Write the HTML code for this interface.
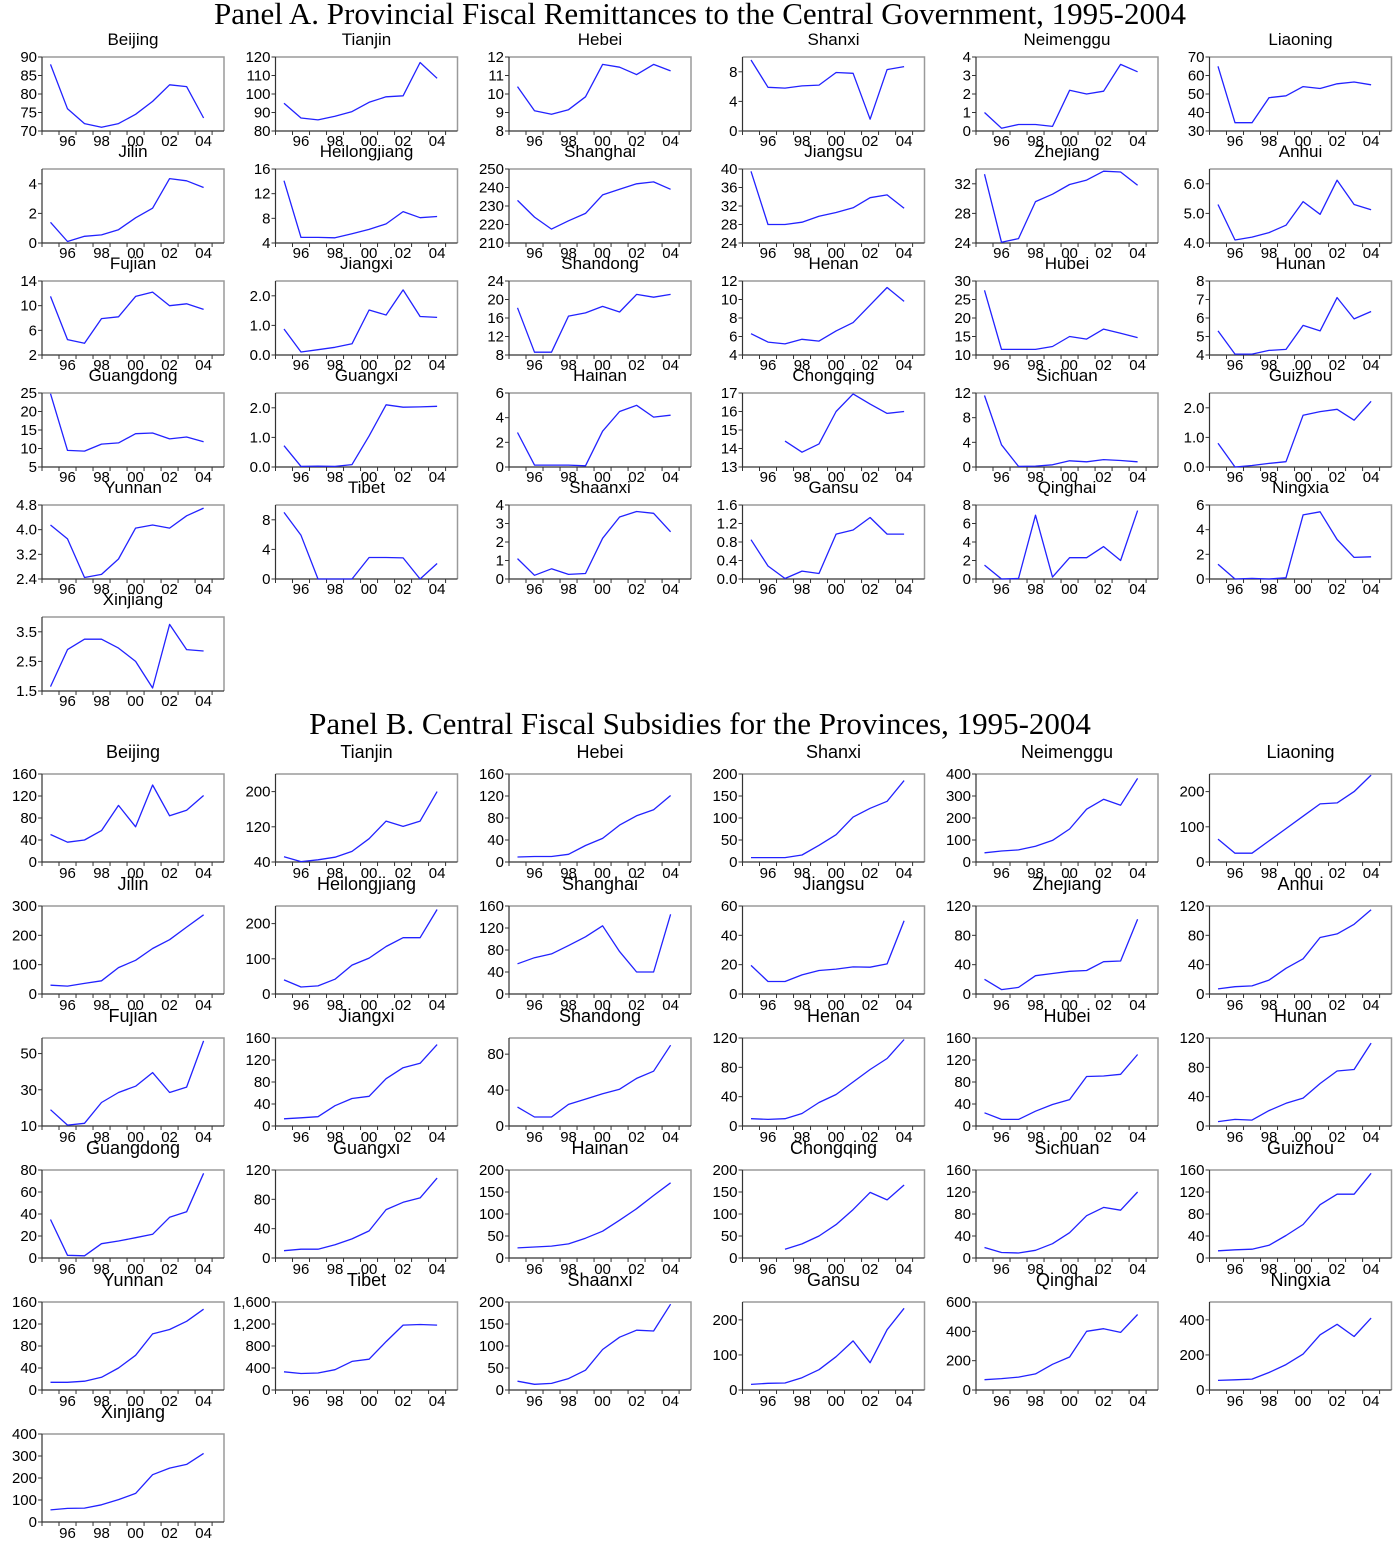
<!DOCTYPE html>
<html><head><meta charset="utf-8">
<style>
html,body{margin:0;padding:0;background:#fff;}
svg{display:block;font-family:"Liberation Sans",Arial,sans-serif;}
.mt{font-family:"Liberation Serif","Times New Roman",serif;font-size:31px;fill:#000;}
</style></head>
<body>
<svg id="fig" width="1400" height="1542" viewBox="0 0 1400 1542" xmlns="http://www.w3.org/2000/svg">
<text class="mt" x="700" y="24" text-anchor="middle">Panel A. Provincial Fiscal Remittances to the Central Government, 1995-2004</text>
<text class="mt" x="700" y="734" text-anchor="middle">Panel B. Central Fiscal Subsidies for the Provinces, 1995-2004</text>
</svg>
<script>
const provinces = ["Beijing","Tianjin","Hebei","Shanxi","Neimenggu","Liaoning","Jilin","Heilongjiang","Shanghai","Jiangsu","Zhejiang","Anhui","Fujian","Jiangxi","Shandong","Henan","Hubei","Hunan","Guangdong","Guangxi","Hainan","Chongqing","Sichuan","Guizhou","Yunnan","Tibet","Shaanxi","Gansu","Qinghai","Ningxia","Xinjiang"];
const years = [1995,1996,1997,1998,1999,2000,2001,2002,2003,2004];
const xTickYears = [1996,1998,2000,2002,2004];
const xTickLabels = ["96","98","00","02","04"];

const remittances = [
[88,76,72,71,72,74.5,78,82.5,82,73.5],
[95,87,86,88,90.5,95.5,98.5,99,117,108.5],
[10.4,9.1,8.9,9.15,9.85,11.6,11.45,11.05,11.6,11.25],
[9.6,5.9,5.8,6.1,6.2,7.9,7.8,1.6,8.3,8.7],
[1.0,0.15,0.35,0.35,0.25,2.2,2.0,2.15,3.6,3.2],
[65,34.5,34.5,48,49,54,53,55.5,56.5,55],
[1.4,0.1,0.45,0.55,0.9,1.7,2.35,4.35,4.2,3.75],
[14.1,4.9,4.9,4.85,5.5,6.2,7.1,9.1,8.1,8.3],
[233,224,217.5,222,226,236,239,242,243,239],
[39.5,28,28,28.5,29.8,30.6,31.6,33.8,34.4,31.5],
[33.3,24.1,24.6,29.6,30.6,31.9,32.5,33.7,33.6,31.8],
[5.3,4.1,4.2,4.35,4.6,5.4,4.97,6.12,5.3,5.12],
[11.5,4.5,3.9,7.9,8.2,11.5,12.2,10,10.3,9.4],
[0.88,0.1,0.18,0.26,0.38,1.52,1.35,2.2,1.3,1.27],
[18.2,8.6,8.6,16.4,17.1,18.5,17.3,21.1,20.5,21.1],
[6.3,5.4,5.2,5.7,5.5,6.6,7.5,9.4,11.3,9.8],
[27.5,11.5,11.5,11.5,12.3,15,14.3,17,15.9,14.7],
[5.3,4.05,4.05,4.25,4.3,5.6,5.3,7.1,5.95,6.35],
[24.8,9.5,9.3,11.2,11.5,14,14.2,12.6,13.1,11.8],
[0.72,0.02,0.03,0.02,0.08,1.05,2.1,2.02,2.03,2.05],
[2.8,0.15,0.15,0.15,0.1,2.9,4.5,5.0,4.05,4.2],
[null,null,14.4,13.8,14.25,16,16.95,16.4,15.9,16.0],
[11.6,3.6,0.1,0.15,0.35,1.0,0.85,1.2,1.05,0.85],
[0.8,0,0.05,0.12,0.18,1.75,1.87,1.95,1.58,2.22],
[4.15,3.7,2.45,2.55,3.05,4.05,4.15,4.05,4.45,4.7],
[9,5.9,0,0,0,2.9,2.9,2.85,0,2.1],
[1.1,0.2,0.55,0.25,0.3,2.2,3.35,3.65,3.55,2.55],
[0.85,0.28,0.01,0.17,0.12,0.97,1.06,1.33,0.97,0.97],
[1.5,0,0.05,6.9,0.2,2.3,2.3,3.5,2.0,7.4],
[1.2,0,0.05,0,0.1,5.2,5.45,3.2,1.75,1.8],
[1.65,2.9,3.25,3.25,2.95,2.5,1.6,3.75,2.9,2.85]
];
const remitRanges = [[70,90],[80,120],[8,12],[0,10],[0,4],[30,70],[0,5],[4,16],[210,250],[24,40],[24,34],[4,6.5],[2,14],[0,2.5],[8,24],[4,12],[10,30],[4,8],[5,25],[0,2.5],[0,6],[13,17],[0,12],[0,2.5],[2.4,4.8],[0,10],[0,4],[0,1.6],[0,8],[0,6],[1.5,4]];
const remitTicks = [[70,75,80,85,90],[80,90,100,110,120],[8,9,10,11,12],[0,4,8],[0,1,2,3,4],[30,40,50,60,70],[0,2,4],[4,8,12,16],[210,220,230,240,250],[24,28,32,36,40],[24,28,32],[4,5,6],[2,6,10,14],[0,1,2],[8,12,16,20,24],[4,6,8,10,12],[10,15,20,25,30],[4,5,6,7,8],[5,10,15,20,25],[0,1,2],[0,2,4,6],[13,14,15,16,17],[0,4,8,12],[0,1,2],[2.4,3.2,4.0,4.8],[0,4,8],[0,1,2,3,4],[0,0.4,0.8,1.2,1.6],[0,2,4,6,8],[0,2,4,6],[1.5,2.5,3.5]];
const remitTickDecimals = [0,0,0,0,0,0,0,0,0,0,0,1,0,1,0,0,0,0,0,1,0,0,0,1,1,0,0,1,0,0,1];

const subsidies = [
[50,36,40,57,103,64,140,84,94,121],
[52,41,45,51,64,93,133,121,133,200],
[9,10,10,14,30,43,67,84,95,121],
[10,10,10,16,38,62,102,122,138,185],
[42,50,55,72,98,150,240,285,258,380],
[65,25,25,60,95,130,165,168,200,247],
[30,27,36,45,90,115,155,185,228,270],
[40,20,23,42,82,102,135,160,160,240],
[55,66,73,88,104,124,77,40,40,145],
[19.5,8.5,8.5,13,16,17,18.5,18.3,20.5,50],
[20,6,9,25,28,31,32,44,45,102],
[7,10,11,19,35,48,77,82,95,115],
[19,10.5,11.5,23,28.5,32,39.5,28.5,31.5,57],
[13,15,17,37,50,54,86,106,114,148],
[21,10,10,24,30,36,41,53,61,90],
[10,9,10,17,32,43,60,77,92,118],
[24,12,12,27,39,48,90,91,94,130],
[6,9,8,21,31,38,58,75,77,113],
[35,2.5,2,13,15.5,18.5,21.5,37,42,77],
[10,12,12,18,26,37,66,76,82,109],
[23,25,27,32,45,61,86,112,142,171],
[null,null,20,32,50,76,110,149,132,166],
[19,10,9,14,26,46,77,92,87,120],
[13,15,16,23,41,61,97,116,116,154],
[14,14,16,23,40,63,102,110,125,147],
[330,300,310,370,520,560,880,1180,1190,1180],
[20,13,15,26,45,92,120,136,134,195],
[16,19,20,35,58,95,140,78,172,233],
[70,78,88,110,175,225,400,418,393,515],
[55,58,62,100,145,205,315,375,305,410],
[55,62,63,78,102,130,215,245,262,312]
];
const subRanges = [[0,160],[40,240],[0,160],[0,200],[0,400],[0,250],[0,300],[0,250],[0,160],[0,60],[0,120],[0,120],[10,58.6],[0,160],[0,98],[0,120],[0,160],[0,120],[0,80],[0,120],[0,200],[0,200],[0,160],[0,160],[0,160],[0,1600],[0,200],[0,251],[0,600],[0,502],[0,400]];
const subTicks = [[0,40,80,120,160],[40,120,200],[0,40,80,120,160],[0,50,100,150,200],[0,100,200,300,400],[0,100,200],[0,100,200,300],[0,100,200],[0,40,80,120,160],[0,20,40,60],[0,40,80,120],[0,40,80,120],[10,30,50],[0,40,80,120,160],[0,40,80],[0,40,80,120],[0,40,80,120,160],[0,40,80,120],[0,20,40,60,80],[0,40,80,120],[0,50,100,150,200],[0,50,100,150,200],[0,40,80,120,160],[0,40,80,120,160],[0,40,80,120,160],[0,400,800,1200,1600],[0,50,100,150,200],[0,100,200],[0,200,400,600],[0,200,400],[0,100,200,300,400]];

const NS = "http://www.w3.org/2000/svg";
const svg = document.getElementById('fig');
function el(tag, attrs, parent){
  const e = document.createElementNS(NS, tag);
  for (const k in attrs) e.setAttribute(k, attrs[k]);
  (parent||svg).appendChild(e);
  return e;
}
function fmt(v, dec){
  if (dec > 0) return v.toFixed(dec);
  if (Math.abs(v) >= 1000) return v.toLocaleString('en-US');
  return String(v);
}
const COLW = 233.5, X0 = 42, BW = 182;
const XMIN = 1994.5, XMAX = 2005.2;

function drawChart(panel, idx, top, h, values, range, ticks, dec, titleOff, xlabOff, titleSize){
  const col = idx % 6;
  const left = X0 + COLW * col;
  const g = el('g', {});
  
  
  const xs = y => left + (y - XMIN) / (XMAX - XMIN) * BW;
  const ys = v => top + h - (v - range[0]) / (range[1] - range[0]) * h;
  const t = el('text', {x: left + BW/2, y: top - titleOff, 'text-anchor': 'middle', 'font-size': titleSize}, g);
  t.textContent = provinces[idx];
  
  
  const fr = el('path', {d: `M${left},${top} H${left+BW} V${top+h}`, fill: 'none', stroke: '#9a9a9a', 'stroke-width': 1.5}, g);
  
  
  const ax = el('path', {d: `M${left},${top} V${top+h} H${left+BW}`, fill: 'none', stroke: '#333', 'stroke-width': 1.2}, g);
  
  
  for (let yr = 1995; yr <= 2005; yr++) {
    el('line', {x1: xs(yr - 0.5), x2: xs(yr - 0.5), y1: top + h, y2: top + h + 4, stroke: '#333', 'stroke-width': 1}, g);
  }
  xTickYears.forEach((yr, i) => {
    const tx = el('text', {x: xs(yr), y: top + h + xlabOff, 'text-anchor': 'middle', 'font-size': 15}, g);
    tx.textContent = xTickLabels[i];
    
    
  });
  ticks.forEach(v => {
    const yy = ys(v);
    el('line', {x1: left - 4, x2: left, y1: yy, y2: yy, stroke: '#333', 'stroke-width': 1}, g);
    const ty = el('text', {x: left - 5, y: yy + 5, 'text-anchor': 'end', 'font-size': 15}, g);
    ty.textContent = fmt(v, dec);
    
    
  });
  let d = '', pen = false;
  values.forEach((v, i) => {
    if (v === null) { pen = false; return; }
    d += (pen ? 'L' : 'M') + xs(years[i]).toFixed(1) + ',' + ys(v).toFixed(1);
    pen = true;
  });
  const ln = el('path', {d: d, fill: 'none', stroke: '#2222ff', 'stroke-width': 1.3, 'stroke-linejoin': 'round'}, g);
  
  
}

provinces.forEach((p, i) => {
  const row = Math.floor(i / 6);
  drawChart('remittance', i, 57 + 112 * row, 74, remittances[i], remitRanges[i], remitTicks[i], remitTickDecimals[i], 12, 15, 17);
  drawChart('subsidy', i, 774 + 132 * row, 88, subsidies[i], subRanges[i], subTicks[i], 0, 16, 16, 18);
});
</script>
</body></html>
